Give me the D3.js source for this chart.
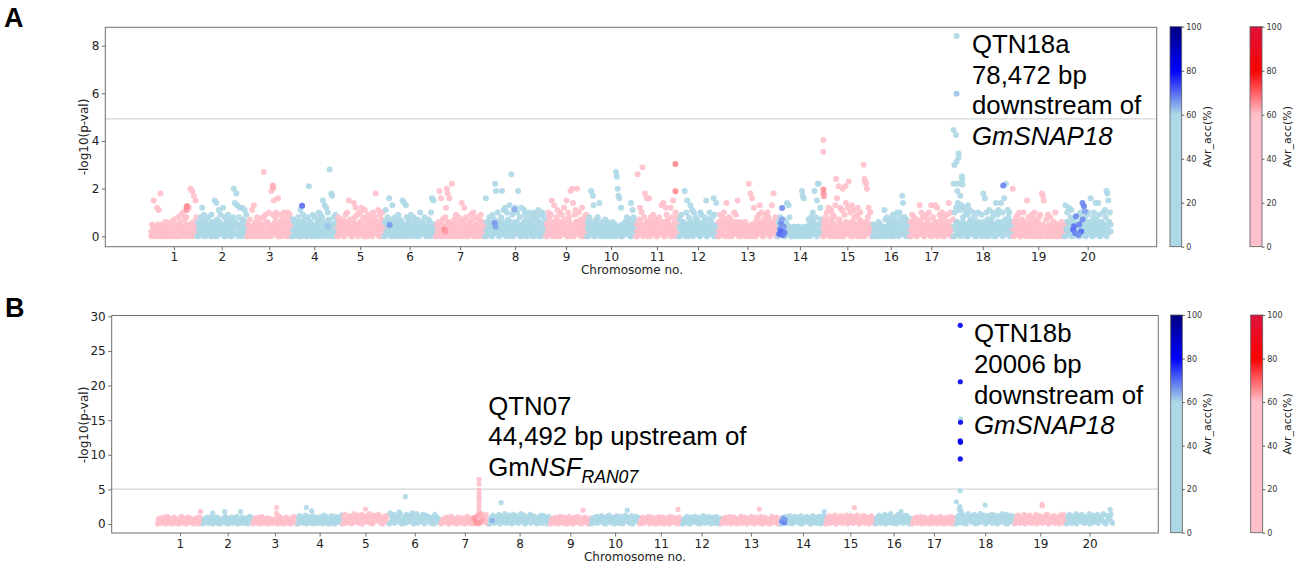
<!DOCTYPE html>
<html><head><meta charset="utf-8">
<script src="https://cdn.jsdelivr.net/npm/d3@7/dist/d3.min.js"></script>
<style>body{margin:0;background:#fff}svg{display:block}</style>
</head><body>
<svg id="chart" width="1299" height="565"></svg>
<script>
// ---------------- DATA ----------------
const chromosomes = ["1","2","3","4","5","6","7","8","9","10","11","12","13","14","15","16","17","18","19","20"];
// relative span of each chromosome on the marker axis
const chrSpan = [46,50,45,45,47,52,49,61,41,49,43,39,60,45,50,37,44,59,52,47];
const yTicksA = [0,2,4,6,8];
const yTicksB = [0,5,10,15,20,25,30];
const accTicks = [0,20,40,60,80,100];
const thresholdA = 4.93;
const thresholdB = 5.05;
const backgroundAcc = 30;
// SNP -log10(p) values along each chromosome, one character per SNP, in tenths (base 36: '0'-'9','a'=1.0 ... 'z'=3.5)
const snpsA = [
"052f143c0b4i25031620453162073150824691a3728b4c5k1j6h3f8",
"063185c29407381529064f0e72b3915c280639417028ke5id18c04c72b69",
"052714b3d06281473058r29160a43j29f58a3g069371a5286a0947",
"0736152840b269175038l26049183507a2948f1d6c3a7s0ih58092",
"082615370493a6f17204e8c3951a6c280b470958261a38i26b4907a3",
"06b283g471d50842693710f5e3d8047291583620714a526381540726ag3f15",
"0526j3g07148cki6g03m51729048361e07c4825063917a3508247193605",
"0g6238150947mj2a6038j1b5c2a74d0q93b6c4aj281c05b9372a16830a74928b0659a381",
"052a839f16d408b36a2951c74f3a80j5ke29b4k6a371c50829",
"06382j1hd507284e6140527136042516305rpkhg2c50436182570e3b846",
"05q27c3at18i4g06g38259147063815d2e60c94715c28f03a618",
"0739162j5af083d6b2a4817350a926184f072a5381g94e0",
"0629183a57e30847261a395f146025316043m2i5g0c361849d2a507394a8162d5i3820",
"06283157046e2d810314203142031jhg4023175086a3j28fmm5c71",
"06284a3c71b5908dog2l7c0bk49le1cn3a6d0b8259c47a106uonmk8c3a51",
"05231406152304b72804617390285a16a28he5837140",
"063928150746d4a18305927a41d0825d3c61937a0582694e1a307",
"0a3c6e1b4d28c5a09d2b736a18405a26193i4g0a72b3618a05e39b16e4a2g7m3b8a615",
"k0638192a5074a163f28403917a52608194ihf3072915840362a0514036215",
"0d3a6c18b4072815390a62718049a36g508a3e71e94062a3b8jif6a2"
];
// additional weakly associated SNPs forming the dense low band (same encoding)
const snpsA_low = [
"2041302514031204150230142051302410352014203152",
"30524160352413062514036251403526140352614053261403",
"204130251403520413062514035261403520416302514",
"305214063025140352614035204163025140362514036",
"40625140362514036251403625140362514036251403625",
"3052614035261403526140352614035261403524130241302413",
"2041305214036251403625140362514035241302514036251",
"3052614035261403526140352614035261403526140352614035261403526",
"40625140362514036251403625140362514036251",
"3052614035241302413024130241302413024135261403526",
"3052614035261403526140352614035261403526140",
"405261403526140352614035261403526140352",
"305261403526140352614035241302413024130352614035261403526140",
"305261403524130241302413024130241352614035261",
"40625140362514036251403625140362514036251403625140",
"2031402130241302514036251403625140362",
"30526140352614035261403526140352614035261403",
"40625140362514036251403625140362514036251403625140362514036",
"3052614035261403526140352614035241302413024130241302",
"40625140362514036251403625140362514036251403625"
];
const snpsB = [
"0739152a4806b3917205a48163092b5718406a39271508463a05927",
"06394a1728b05936a184027395b160483a17295b04813a61592708b4a3",
"0529361a804b73162950837416249206b3817052a96184036b7390",
"07c3a5192d604b8271c5039a6182b407d391a5062c8140b937a26d",
"0a4e1728c5b093f6a2d8147e0c95b3a6f1820d7c4a9e5b16037c8a2d",
"0g3b7e1a5d9c2f6048b1e7a3d59g0c26f18a4b3e70d9c5a2816b0e4a9273",
"0527394a1806b3927150a4836192705b3a8164029a735081c4d6b2e703",
"06a3d1729b5e0c84a2f6193d7b05e2a8c4169f3b7d0528a6e1c94b3702a85d16c93a07b4",
"0628193a5074b2916a38052b7419063a82b5170493a6281059",
"07394a1b5286c3a1905b7d2648a093c6172b5084d9a3716c2058b4a39",
"052a817396b4082a5193074b6182a05379140b62a8351907a462",
"06392b7140a5836b2917a0483c61952b8407a3916b25087",
"05297a1836b0492a7150836b9142a706385b1290a47361b8052a9314706b2835a19047",
"0638a2b5197c4062b83a5917c0462a8b351907c264a183b5092c7a",
"06a3c1829b5d0748a2c6193b7d05a2c8416b39d7052a8c61b4930a2c7518",
"07a3d6192b5e0c84a2f61937b05e2a8c4169d3b70528",
"05397a1826b4093a7152806b9143a70628b5139074a2618b30592",
"0a5d2b8e1c6309f7a4b2d8e05c1a7f3b9d6042c8a5e1b7d3906c2a8f4b1e70d5a3c9b2",
"06b3d8172a5e0c94b2d6183a7e05b2c8416a3d9e07528b6c1a4930d2b7e15a",
"0a3e6c182b5f0d74a9e2c6183b5f0a7d249c3e1a86b5f2d04c7a9e31"
];
// highlighted SNPs: [chromosome, relative position within chromosome, -log10(p), Avr_acc(%)]
const peaksA = [
 [1,0.77,1.10,63],[1,0.78,1.22,65],[1,0.79,1.27,65],
 [3,0.58,2.13,62],[3,0.59,2.03,62],
 [4,0.23,1.28,70],[4,0.80,0.42,62],
 [6,0.115,0.47,66],
 [7,0.18,0.28,66],[7,0.20,0.20,64],
 [8,0.164,0.56,66],[8,0.18,0.40,65],[8,0.49,1.12,64],
 [11,0.93,3.03,66],[11,0.93,1.89,66],
 [14,0.04,0.10,70],[14,0.06,0.30,68],[14,0.08,0.55,67],[14,0.10,0.20,71],[14,0.12,0.05,69],[14,0.14,0.40,66],[14,0.10,0.70,65],[14,0.105,1.19,67],[14,0.16,0.15,68],
 [15,0.02,4.04,30],[15,0.02,3.55,30],[15,0.02,1.96,65],[15,0.025,1.79,65],[15,0.03,1.68,63],
 [18,0.005,4.46,35],[18,0.046,4.25,35],[18,0.09,3.48,35],[18,0.09,3.32,35],[18,0.056,3.13,35],[18,0.017,2.99,35],[18,0.147,2.52,35],[18,0.15,2.38,35],[18,0.005,2.20,35],[18,0.073,2.20,35],[18,0.158,2.17,35],[18,0.068,1.90,35],[18,0.12,1.70,35],
 [18,0.056,8.41,50],[18,0.056,5.98,62],
 [18,0.847,2.13,68],
 [20,0.25,0.84,67],[20,0.32,0.49,68],[20,0.21,0.42,69],[20,0.19,0.28,70],[20,0.23,0.14,68],[20,0.39,1.40,67],[20,0.42,1.26,68],[20,0.44,1.05,65],[20,0.39,0.70,67],[20,0.36,0.20,70],[20,0.30,0.05,67]
];
const peaksB = [
 [1,0.95,1.78,30],
 [2,0.20,1.60,30],[2,0.44,1.78,30],[2,0.76,1.78,30],
 [3,0.54,2.36,30],[3,0.54,1.54,30],
 [4,0.20,2.36,30],[4,0.32,1.90,30],
 [5,0.50,2.17,30],
 [6,0.32,3.95,30],[6,0.20,1.75,30],
 [7,0.79,6.46,30],[7,0.79,5.78,30],[7,0.79,4.90,30],[7,0.79,4.43,30],[7,0.79,3.95,30],[7,0.79,3.70,30],[7,0.79,3.20,30],[7,0.79,2.60,30],[7,0.79,2.00,30],[7,0.79,1.60,30],
 [7,0.68,0.90,64],[7,0.72,0.40,65],[7,0.76,1.20,63],[7,0.80,0.20,64],[7,0.83,1.45,62],[7,0.86,0.60,63],[7,0.74,0.10,64],
 [8,0.05,0.50,64],[8,0.195,3.08,30],
 [9,0.81,2.00,30],
 [10,0.75,2.00,30],
 [11,0.90,2.10,30],
 [13,0.64,2.16,30],
 [14,0.97,1.78,30],
 [14,0.02,0.40,67],[14,0.05,0.90,65],[14,0.08,0.15,68],[14,0.10,0.60,66],
 [15,0.58,2.36,30],
 [16,0.70,1.80,30],
 [18,0.076,28.7,82],[18,0.076,20.55,82],[18,0.083,15.2,40],[18,0.08,14.7,82],[18,0.076,12.0,82],[18,0.079,11.8,82],[18,0.076,9.4,82],
 [18,0.074,4.80,30],[18,0.01,3.20,30],[18,0.07,2.50,30],[18,0.06,2.10,30],[18,0.09,1.90,30],
 [18,0.50,2.74,30],
 [19,0.53,2.85,30],[19,0.54,2.60,30],
 [20,0.94,2.10,30]
];

// ---------------- LAYOUT ----------------
const svg = d3.select("#chart");
const tickFont = "DejaVu Sans, sans-serif";
const annFont = "Liberation Sans, Arial, sans-serif";
const total = d3.sum(chrSpan);
const offsets = chrSpan.map((s,i)=>d3.sum(chrSpan.slice(0,i)));
const centers = chrSpan.map((s,i)=>offsets[i]+s/2);

const blueMap = d3.scaleLinear().domain([0,60,80,100]).range(["#add8e6","#add8e6","#0000ff","#000080"]);
const redMap  = d3.scaleLinear().domain([0,60,80,100]).range(["#ffc0cb","#ffc0cb","#ff0000","#dc143c"]);
const colorFor = (chrIdx, acc) => (chrIdx % 2 === 0 ? redMap : blueMap)(acc);

const panels = [
 {frame:{x0:105.3,x1:1156.7,y0:27.3,y1:246.7}, yDomain:[-0.437,8.772], yTicks:yTicksA, snpSets:[snpsA_low,snpsA], peaks:peaksA, thr:thresholdA, r:3.0,
  cbars:[{x:1170,w:11.7,map:blueMap,lx:1207},{x:1250,w:12,map:redMap,lx:1287}], cb:{y0:26.7,y1:246.7},
  xlab:{x:632,y:274}, ylab:{x:84,y:137}, letter:{t:"A",x:4,y:27},
  ann:{x:972, y:53.3, lines:[[["QTN18a",""]],[["78,472 bp",""]],[["downstream of",""]],[["GmSNAP18","i"]]], dy:30.5}},
 {frame:{x0:111.7,x1:1158.3,y0:315.5,y1:533}, yDomain:[-1.3,30.12], yTicks:yTicksB, snpSets:[snpsB], peaks:peaksB, thr:thresholdB, r:2.6,
  cbars:[{x:1170.7,w:11.6,map:blueMap,lx:1207.3},{x:1250.7,w:12,map:redMap,lx:1287.3}], cb:{y0:315,y1:532.7},
  xlab:{x:635,y:560.5}, ylab:{x:84,y:425}, letter:{t:"B",x:5,y:317},
  ann:{x:974, y:341.7, lines:[[["QTN18b",""]],[["20006 bp",""]],[["downstream of",""]],[["GmSNAP18","i"]]], dy:30.9}}
];

const defs = svg.append("defs");

panels.forEach((p,pi)=>{
  const f = p.frame;
  const x = d3.scaleLinear().domain([-0.0474*total, 1.0474*total]).range([f.x0,f.x1]);
  const y = d3.scaleLinear().domain(p.yDomain).range([f.y1,f.y0]);
  const g = svg.append("g");

  // threshold line
  g.append("line").attr("x1",f.x0).attr("x2",f.x1).attr("y1",y(p.thr)).attr("y2",y(p.thr))
   .attr("stroke","#d6d6d6").attr("stroke-width",1.2);

  // points
  const pts = [];
  p.snpSets.forEach(set=>{
    set.forEach((s,ci)=>{
      const n = s.length;
      for(let i=0;i<n;i++){
        pts.push({pos:offsets[ci]+(i+0.5)/n*chrSpan[ci], val:parseInt(s[i],36)/10, acc:backgroundAcc, ci});
      }
    });
  });
  p.peaks.forEach(d=>{
    const ci = d[0]-1;
    pts.push({pos:offsets[ci]+d[1]*chrSpan[ci], val:d[2], acc:d[3], ci});
  });
  g.append("g").selectAll("circle").data(pts).join("circle")
   .attr("cx",d=>x(d.pos)).attr("cy",d=>y(d.val)).attr("r",p.r)
   .attr("fill",d=>colorFor(d.ci,d.acc)).attr("fill-opacity",0.9);

  // frame
  g.append("rect").attr("x",f.x0).attr("y",f.y0).attr("width",f.x1-f.x0).attr("height",f.y1-f.y0)
   .attr("fill","none").attr("stroke","#6e6e6e").attr("stroke-width",1);

  // axes
  const ya = g.append("g").attr("transform",`translate(${f.x0},0)`)
   .call(d3.axisLeft(y).tickValues(p.yTicks).tickSize(3.5).tickPadding(2.5));
  const xa = g.append("g").attr("transform",`translate(0,${f.y1})`)
   .call(d3.axisBottom(x).tickValues(centers).tickFormat((d,i)=>chromosomes[i]).tickSize(3.5).tickPadding(2.5));
  [ya,xa].forEach(a=>{
    a.select(".domain").remove();
    a.selectAll("line").attr("stroke","#6e6e6e");
    a.selectAll("text").attr("font-family",tickFont).attr("font-size",12).attr("fill","#222");
  });

  g.append("text").attr("x",p.xlab.x).attr("y",p.xlab.y).attr("text-anchor","middle")
   .attr("font-family",tickFont).attr("font-size",12).attr("fill","#222").text("Chromosome no.");
  g.append("text").attr("transform",`translate(${p.ylab.x},${p.ylab.y}) rotate(-90)`).attr("text-anchor","middle")
   .attr("dominant-baseline","central").attr("font-family",tickFont).attr("font-size",12).attr("fill","#222").text("-log10(p-val)");

  // panel letter
  svg.append("text").attr("x",p.letter.x).attr("y",p.letter.y).attr("font-family",annFont)
   .attr("font-weight","bold").attr("font-size",27).attr("fill","#000").text(p.letter.t);

  // annotation
  const at = svg.append("text").attr("font-family",annFont).attr("font-size",25.8).attr("fill","#000");
  p.ann.lines.forEach((ln,li)=>{
    ln.forEach((seg,si)=>{
      const ts = at.append("tspan").text(seg[0]).attr("font-style",seg[1]==="i"?"italic":"normal");
      if(si===0) ts.attr("x",p.ann.x).attr("y",p.ann.y+li*p.ann.dy);
    });
  });

  // colorbars
  const cy = d3.scaleLinear().domain([0,100]).range([p.cb.y1,p.cb.y0]);
  p.cbars.forEach((cb,bi)=>{
    const id = `grad${pi}${bi}`;
    const grad = defs.append("linearGradient").attr("id",id).attr("x1",0).attr("x2",0).attr("y1",1).attr("y2",0);
    d3.range(0,101,2).forEach(v=>grad.append("stop").attr("offset",v/100).attr("stop-color",cb.map(v)));
    svg.append("rect").attr("x",cb.x).attr("y",p.cb.y0).attr("width",cb.w).attr("height",p.cb.y1-p.cb.y0)
     .attr("fill",`url(#${id})`).attr("stroke","#5a5a5a").attr("stroke-width",0.8);
    const ca = svg.append("g").attr("transform",`translate(${cb.x+cb.w},0)`)
     .call(d3.axisRight(cy).tickValues(accTicks).tickSize(2.5).tickPadding(2));
    ca.select(".domain").remove();
    ca.selectAll("line").attr("stroke","#5a5a5a");
    ca.selectAll("text").attr("font-family",tickFont).attr("font-size",8).attr("fill","#333");
    svg.append("text").attr("transform",`translate(${cb.lx},${(p.cb.y0+p.cb.y1)/2}) rotate(-90)`)
     .attr("text-anchor","middle").attr("dominant-baseline","central").attr("font-family",tickFont)
     .attr("font-size",11).attr("fill","#222").text("Avr_acc(%)");
  });
});

// QTN07 annotation (bottom panel) with subscript
const q7 = svg.append("text").attr("font-family",annFont).attr("font-size",25.8).attr("fill","#000");
q7.append("tspan").attr("x",488.3).attr("y",415).text("QTN07");
q7.append("tspan").attr("x",488.3).attr("y",445.3).text("44,492 bp upstream of");
q7.append("tspan").attr("x",488.3).attr("y",475.6).text("Gm");
q7.append("tspan").attr("font-style","italic").text("NSF");
q7.append("tspan").attr("font-style","italic").attr("font-size",17.6).attr("dy",7).text("RAN07");
</script>
</body></html>
